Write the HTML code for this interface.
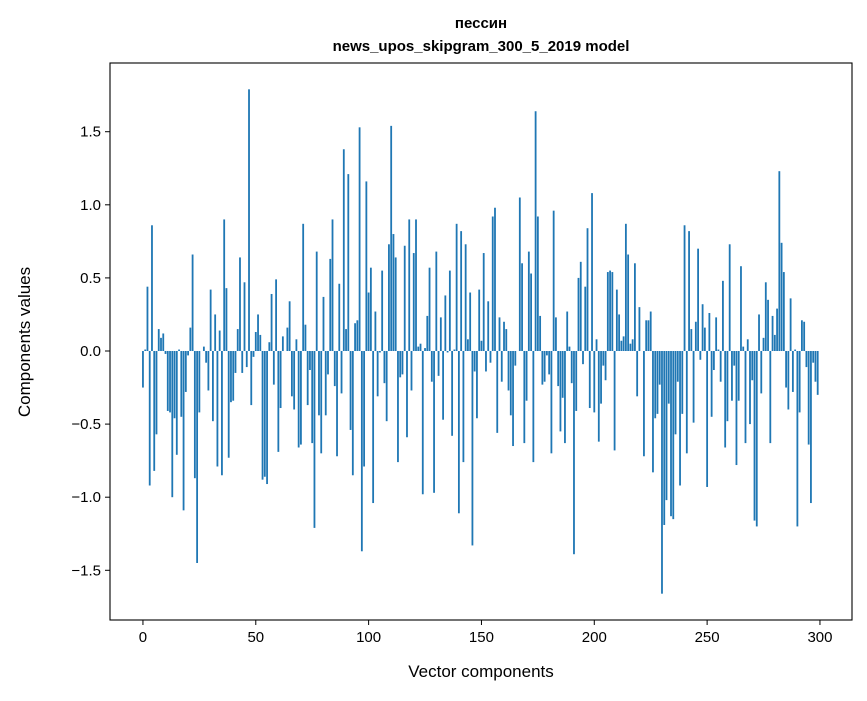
<!DOCTYPE html>
<html><head><meta charset="utf-8"><style>
body{margin:0;background:#fff;}
text{font-family:"Liberation Sans","DejaVu Sans",sans-serif;}
</style></head><body>
<svg id="chart" width="867" height="696" xmlns="http://www.w3.org/2000/svg">
<rect width="867" height="696" fill="#fff"/>
<text x="481" y="28" text-anchor="middle" font-size="15" font-weight="bold">пессин</text>
<text x="481" y="51" text-anchor="middle" font-size="15" font-weight="bold">news_upos_skipgram_300_5_2019 model</text>
<g id="bars"></g>
<g id="axes"></g>
<rect x="110" y="63" width="742" height="557" fill="none" stroke="#000" stroke-width="1.1"/>
<text x="481" y="677" text-anchor="middle" font-size="17">Vector components</text>
<text transform="translate(30,342) rotate(-90)" text-anchor="middle" font-size="17">Components values</text>
</svg>
<script>
const values = [
-0.25,0.01,0.44,-0.92,0.86,-0.82,-0.57,0.15,0.09,0.12,
-0.02,-0.41,-0.42,-1.0,-0.46,-0.71,0.01,-0.45,-1.09,-0.28,
-0.03,0.16,0.66,-0.87,-1.45,-0.42,0.0,0.03,-0.08,-0.27,
0.42,-0.48,0.25,-0.79,0.14,-0.85,0.90,0.43,-0.73,-0.35,
-0.34,-0.15,0.15,0.64,-0.15,0.47,-0.11,1.79,-0.37,-0.04,
0.13,0.25,0.11,-0.88,-0.86,-0.91,0.06,0.39,-0.23,0.49,
-0.69,-0.39,0.10,0.0,0.16,0.34,-0.31,-0.40,0.08,-0.66,
-0.64,0.87,0.18,-0.37,-0.13,-0.63,-1.21,0.68,-0.44,-0.70,
0.37,-0.44,-0.16,0.63,0.90,-0.24,-0.72,0.46,-0.29,1.38,
0.15,1.21,-0.54,-0.85,0.19,0.21,1.53,-1.37,-0.79,1.16,
0.40,0.57,-1.04,0.27,-0.31,-0.01,0.55,-0.22,-0.48,0.73,
1.54,0.80,0.64,-0.76,-0.18,-0.16,0.72,-0.59,0.90,-0.27,
0.67,0.90,0.03,0.05,-0.98,0.02,0.24,0.57,-0.21,-0.97,
0.68,-0.17,0.23,-0.47,0.38,-0.01,0.55,-0.58,0.01,0.87,
-1.11,0.82,-0.76,0.73,0.08,0.40,-1.33,-0.14,-0.46,0.42,
0.07,0.67,-0.14,0.34,-0.08,0.92,0.98,-0.56,0.23,-0.21,
0.20,0.15,-0.27,-0.44,-0.65,-0.10,0.0,1.05,0.60,-0.63,
-0.34,0.68,0.53,-0.76,1.64,0.92,0.24,-0.23,-0.21,-0.03,
-0.16,-0.70,0.96,0.23,-0.24,-0.55,-0.32,-0.63,0.27,0.03,
-0.22,-1.39,-0.41,0.50,0.61,-0.09,0.44,0.84,-0.39,1.08,
-0.42,0.08,-0.62,-0.36,-0.10,-0.20,0.54,0.55,0.54,-0.68,
0.42,0.25,0.07,0.10,0.87,0.66,0.05,0.08,0.60,-0.31,
0.30,0.0,-0.72,0.21,0.21,0.27,-0.83,-0.46,-0.43,-0.23,
-1.66,-1.19,-1.02,-0.36,-1.13,-1.15,-0.57,-0.21,-0.92,-0.43,
0.86,-0.70,0.82,0.15,-0.49,0.20,0.70,-0.06,0.32,0.16,
-0.93,0.26,-0.45,-0.13,0.23,0.01,-0.21,0.48,-0.66,-0.48,
0.73,-0.34,-0.10,-0.78,-0.34,0.58,0.03,-0.63,0.08,-0.50,
-0.20,-1.16,-1.20,0.25,-0.29,0.09,0.47,0.35,-0.63,0.24,
0.11,0.29,1.23,0.74,0.54,-0.25,-0.40,0.36,-0.28,0.01,
-1.20,-0.42,0.21,0.20,-0.11,-0.64,-1.04,-0.08,-0.21,-0.30
];
const xTicks = [0,50,100,150,200,250,300];
const yTicks = [-1.5,-1.0,-0.5,0.0,0.5,1.0,1.5];
const yTickLabels = ["−1.5","−1.0","−0.5","0.0","0.5","1.0","1.5"];

const NS = "http://www.w3.org/2000/svg";
const xMin=-14.6, xMax=314.2, yMin=-1.84, yMax=1.97;
const PL=110, PR=852, PT=63, PB=620;
function xs(v){return PL+(v-xMin)/(xMax-xMin)*(PR-PL);}
function ys(v){return PB-(v-yMin)/(yMax-yMin)*(PB-PT);}
const bars=document.getElementById('bars');
const bw=xs(0.8)-xs(0);
values.forEach((v,i)=>{
  const r=document.createElementNS(NS,'rect');
  const y0=ys(0), y1=ys(v);
  r.setAttribute('x',xs(i)-bw/2);
  r.setAttribute('y',Math.min(y0,y1));
  r.setAttribute('width',bw);
  r.setAttribute('height',Math.max(Math.abs(y1-y0),0.01));
  r.setAttribute('fill','#1f77b4');
  
  
  bars.appendChild(r);
});
const axes=document.getElementById('axes');
xTicks.forEach(t=>{
  const l=document.createElementNS(NS,'line');
  l.setAttribute('x1',xs(t));l.setAttribute('x2',xs(t));
  l.setAttribute('y1',PB);l.setAttribute('y2',PB+5);
  l.setAttribute('stroke','#000');
  
  
  axes.appendChild(l);
  const tx=document.createElementNS(NS,'text');
  tx.setAttribute('x',xs(t));tx.setAttribute('y',PB+22);
  tx.setAttribute('text-anchor','middle');tx.setAttribute('font-size','15');
  tx.textContent=t;
  
  
  axes.appendChild(tx);
});
yTicks.forEach((t,k)=>{
  const l=document.createElementNS(NS,'line');
  l.setAttribute('x1',PL-5);l.setAttribute('x2',PL);
  l.setAttribute('y1',ys(t));l.setAttribute('y2',ys(t));
  l.setAttribute('stroke','#000');
  
  
  axes.appendChild(l);
  const tx=document.createElementNS(NS,'text');
  tx.setAttribute('x',PL-9);tx.setAttribute('y',ys(t)+5);
  tx.setAttribute('text-anchor','end');tx.setAttribute('font-size','15');
  tx.textContent=yTickLabels[k];
  
  
  axes.appendChild(tx);
});
</script>
</body></html>
